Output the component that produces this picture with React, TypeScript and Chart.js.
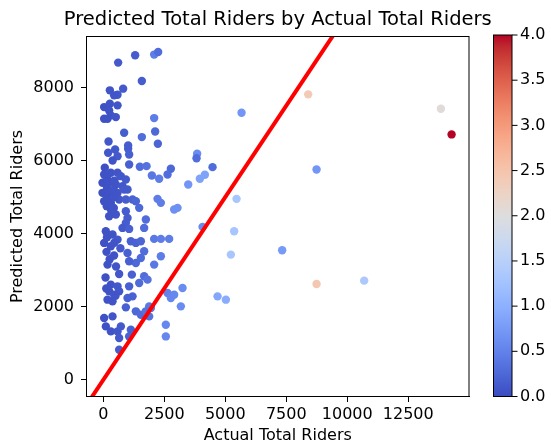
import React, { useEffect, useRef } from 'react';
import { Chart, registerables } from 'chart.js';

Chart.register(...registerables);

// ---- Data ----
const actualRiders = [
  607, 1304, 2083, 2247, 1579, 267, 582, 812, 443, 33, 267, 582, 238, 33, 308, 513, 172, 2083, 853, 1579,
  2124, 213, 2235, 1017, 197, 484, 582, 1017, 1058, 1058, 1497, 1771, 2768, 2632, 1989, 2288, 3480, 33, 308, 582,
  718, 923, -33, 238, 513, 787, 992, -33, 238, 582, 853, 33, 308, 648, 923, 1197, 1333, 308, 513, 238,
  923, 992, 1470, 2222, 2358, 2903, 3042, 1743, 1673, 923, 787, 1058, 2083, 2358, 2698, 103, 377, 582, 33, 308,
  1128, 1333, 1538, 1673, 1538, 1333, 1058, 992, 2358, 2083, 172, 648, 1169, 1673, 1812, 1470, 308, 582, 238, 648,
  443, 172, 377, 1058, 1197, 992, 923, 1333, 1538, 1879, 1948, 33, 377, 103, 308, 582, 718, 648, 1128, 1058,
  648, 2562, 2562, 2632, 2768, 2903, 3178, 3247, 1879, 1743, 5666, 3846, 3821, 4477, 3957, 4162, 5461, 8398, 4067, 5363,
  5228, 7331, 4682, 5023, 13838, 14276, 8741, 8741, 10693,
  150, 450, 150, 420, 160, 460, 140, 430, 150, 450, 130, 440, 260, 520, 700, 60, 380, 120, 500, 90
];
const predictedRiders = [
  8678, 8878, 8897, 8968, 8174, 7919, 7800, 7965, 7782, 7461, 7554, 7508, 7370, 7143, 7234, 7187, 7143, 7160, 6760, 6640,
  6795, 6521, 6458, 6412, 6211, 6302, 6118, 6321, 6165, 5891, 5828, 5845, 5773, 5617, 5590, 5499, 5343, 5617, 5663, 5663,
  5571, 5480, 5389, 5389, 5343, 5297, 5206, 5115, 5115, 5115, 5206, 4886, 4841, 4932, 4932, 4932, 4886, 4658, 4521, 4475,
  4612, 4429, 4704, 4950, 4841, 4658, 4704, 4384, 4155, 4292, 4155, 4128, 3855, 3855, 3855, 4064, 3973, 3836, 3745, 3653,
  3790, 3745, 3790, 3516, 3334, 3197, 3242, 3471, 3379, 3151, 3151, 2896, 2877, 2831, 2740, 2649, 2603, 2557, 2420, 2420,
  2329, 2192, 2146, 2557, 2283, 2238, 1982, 1873, 1781, 1735, 1964, 1690, 1735, 1461, 1324, 1324, 1461, 1142, 1370, 1187,
  822, 1507, 1187, 2375, 2238, 2329, 2009, 2512, 2009, 1873, 7307, 6184, 6063, 5818, 5499, 5608, 4950, 7809, 4184, 4064,
  3425, 3543, 2283, 2192, 7417, 6713, 5754, 2622, 2713,
  5500, 5450, 5250, 5200, 4990, 5000, 4750, 4700, 3900, 3750, 3500, 3400, 3300, 3100, 3600, 5800, 6000, 2500, 2300, 2800
];
const colorValues = [
  0.12, 0.15, 0.45, 0.3, 0.15, 0.08, 0.1, 0.12, 0.08, 0.05, 0.06, 0.08, 0.06, 0.05, 0.06, 0.08, 0.05, 0.45, 0.15, 0.3,
  0.25, 0.1, 0.22, 0.15, 0.1, 0.1, 0.12, 0.15, 0.17, 0.17, 0.3, 0.35, 0.25, 0.3, 0.4, 0.45, 0.7, 0.05, 0.06, 0.08,
  0.1, 0.12, 0.04, 0.06, 0.07, 0.1, 0.13, 0.04, 0.06, 0.08, 0.12, 0.05, 0.06, 0.1, 0.15, 0.2, 0.22, 0.06, 0.08, 0.06,
  0.15, 0.15, 0.25, 0.45, 0.45, 0.65, 0.65, 0.3, 0.3, 0.15, 0.12, 0.18, 0.4, 0.45, 0.45, 0.05, 0.07, 0.1, 0.05, 0.06,
  0.18, 0.2, 0.22, 0.3, 0.28, 0.25, 0.18, 0.18, 0.45, 0.4, 0.06, 0.1, 0.18, 0.3, 0.35, 0.28, 0.06, 0.1, 0.06, 0.1,
  0.08, 0.06, 0.07, 0.18, 0.2, 0.18, 0.18, 0.25, 0.28, 0.35, 0.4, 0.05, 0.08, 0.05, 0.07, 0.1, 0.12, 0.12, 0.2, 0.2,
  0.15, 0.55, 0.55, 0.5, 0.55, 0.55, 0.6, 0.6, 0.4, 0.35, 0.7, 0.6, 0.3, 0.3, 0.85, 0.85, 1.3, 2.4, 0.6, 1.3,
  1.3, 0.75, 0.9, 0.95, 2.05, 4.0, 0.7, 2.45, 1.35,
  0.05, 0.07, 0.05, 0.07, 0.05, 0.07, 0.05, 0.07, 0.05, 0.07, 0.05, 0.07, 0.06, 0.08, 0.12, 0.04, 0.07, 0.05, 0.08, 0.05
];
const identityLineEnds = [-1000, 16000];
const xTickValues = [0, 2500, 5000, 7500, 10000, 12500];
const yTickValues = [0, 2000, 4000, 6000, 8000];
const colorbarTicks = [0, 0.5, 1, 1.5, 2, 2.5, 3, 3.5, 4];
const colorbarMin = 0;
const colorbarMax = 4;
const chartTitle = 'Predicted Total Riders by Actual Total Riders';

// coolwarm colormap table (33 samples)
const coolwarmTable: number[][] = [
  [59, 76, 192], [68, 90, 204], [77, 104, 215], [87, 117, 225], [98, 130, 234], [108, 142, 241], [119, 154, 247],
  [130, 165, 251], [141, 176, 254], [152, 185, 255], [163, 194, 255], [174, 201, 253], [184, 208, 249], [194, 213, 244],
  [204, 217, 238], [213, 219, 230], [221, 221, 221], [229, 216, 209], [236, 211, 197], [241, 204, 184], [245, 196, 172],
  [247, 187, 160], [247, 177, 148], [247, 166, 135], [244, 154, 123], [241, 141, 111], [236, 127, 99], [229, 112, 88],
  [222, 96, 77], [213, 80, 66], [203, 62, 56], [192, 40, 47], [180, 4, 38]
];

function coolwarm(t: number): string {
  const tt = Math.max(0, Math.min(1, t));
  const pos = tt * (coolwarmTable.length - 1);
  const i = Math.min(coolwarmTable.length - 2, Math.floor(pos));
  const f = pos - i;
  const a = coolwarmTable[i];
  const b = coolwarmTable[i + 1];
  const c = [0, 1, 2].map((k) => Math.round(a[k] + (b[k] - a[k]) * f));
  return `rgb(${c[0]},${c[1]},${c[2]})`;
}

const FONT = 'DejaVu Sans';
Chart.defaults.font.family = FONT;
Chart.defaults.color = '#000';

const framePlugin = {
  id: 'frameAndColorbar',
  afterDraw(chart: any) {
    const { ctx, chartArea } = chart;
    const { left, right, top, bottom } = chartArea;
    ctx.save();
    ctx.strokeStyle = '#000';
    ctx.lineWidth = 1;
    ctx.strokeRect(left, top, right - left, bottom - top);

    // title, centred over the plot area
    ctx.fillStyle = '#000';
    ctx.font = `19.5px ${FONT}`;
    ctx.textAlign = 'center';
    ctx.textBaseline = 'middle';
    ctx.fillText(chartTitle, (left + right) / 2, 20.3);

    // colorbar
    const cx0 = right + 24.5;
    const cx1 = right + 43;
    const cTop = top - 1.5;
    const cBottom = bottom;
    const g = ctx.createLinearGradient(0, cBottom, 0, cTop);
    coolwarmTable.forEach((c, i) => g.addColorStop(i / (coolwarmTable.length - 1), `rgb(${c[0]},${c[1]},${c[2]})`));
    ctx.fillStyle = g;
    ctx.fillRect(cx0, cTop, cx1 - cx0, cBottom - cTop);
    ctx.strokeRect(cx0, cTop, cx1 - cx0, cBottom - cTop);

    ctx.fillStyle = '#000';
    ctx.font = `16px ${FONT}`;
    ctx.textAlign = 'left';
    ctx.textBaseline = 'middle';
    colorbarTicks.forEach((v) => {
      const y = cBottom - ((v - colorbarMin) / (colorbarMax - colorbarMin)) * (cBottom - cTop);
      ctx.beginPath();
      ctx.moveTo(cx1, y);
      ctx.lineTo(cx1 + 5.5, y);
      ctx.stroke();
      ctx.fillText(v.toFixed(1), cx1 + 8, y);
    });
    ctx.restore();
  }
};

export default function App() {
  const canvasRef = useRef<HTMLCanvasElement | null>(null);

  useEffect(() => {
    if (!canvasRef.current) return;
    const points = actualRiders.map((x, i) => ({ x, y: predictedRiders[i] }));
    const colors = colorValues.map((v) => coolwarm((v - colorbarMin) / (colorbarMax - colorbarMin)));
    const linePts = identityLineEnds.map((v) => ({ x: v, y: v }));

    const chart = new Chart(canvasRef.current, {
      type: 'scatter',
      data: {
        datasets: [
          {
            data: linePts,
            showLine: true,
            borderColor: '#ff0000',
            borderWidth: 4,
            pointRadius: 0,
            fill: false,
            clip: 0,
            order: 0
          } as any,
          {
            data: points,
            backgroundColor: colors,
            borderWidth: 0,
            pointRadius: 4.2,
            pointHoverRadius: 4.2,
            order: 1
          } as any
        ]
      },
      options: {
        responsive: false,
        animation: false,
        devicePixelRatio: 1,
        layout: { padding: { left: 0, right: 82, top: 36.5, bottom: 0 } },
        plugins: {
          legend: { display: false },
          tooltip: { enabled: false },
          title: { display: false }
        },
        scales: {
          x: {
            type: 'linear',
            min: -690,
            max: 14990,
            afterBuildTicks: (s: any) => {
              s.ticks = xTickValues.map((v) => ({ value: v }));
            },
            afterFit: (s: any) => {
              s.height = 45.5;
            },
            ticks: {
              callback: (v: any) => String(v),
              color: '#000',
              font: { family: FONT, size: 16 },
              padding: 3,
              maxRotation: 0,
              autoSkip: false
            },
            grid: { display: true, drawOnChartArea: false, tickLength: 5.5, color: '#000' },
            border: { display: true, color: '#000' },
            title: {
              display: true,
              text: 'Actual Total Riders',
              color: '#000',
              font: { family: FONT, size: 16 },
              padding: { top: 0, bottom: -3.5 }
            }
          },
          y: {
            type: 'linear',
            min: -457,
            max: 9392,
            afterBuildTicks: (s: any) => {
              s.ticks = yTickValues.map((v) => ({ value: v }));
            },
            afterFit: (s: any) => {
              s.width = 86.5;
            },
            ticks: {
              callback: (v: any) => String(v),
              color: '#000',
              font: { family: FONT, size: 16 },
              padding: 7,
              autoSkip: false
            },
            grid: { display: true, drawOnChartArea: false, tickLength: 5.5, color: '#000' },
            border: { display: true, color: '#000' },
            title: {
              display: true,
              text: 'Predicted Total Riders',
              color: '#000',
              font: { family: FONT, size: 16 },
              padding: { top: 8.7, bottom: 0 }
            }
          }
        }
      },
      plugins: [framePlugin]
    });
    return () => chart.destroy();
  }, []);

  return (
    <div style={{ position: 'absolute', left: 0, top: 0, width: 551, height: 442, background: '#fff' }}>
      <canvas ref={canvasRef} width={551} height={442} style={{ display: 'block' }} />
    </div>
  );
}
